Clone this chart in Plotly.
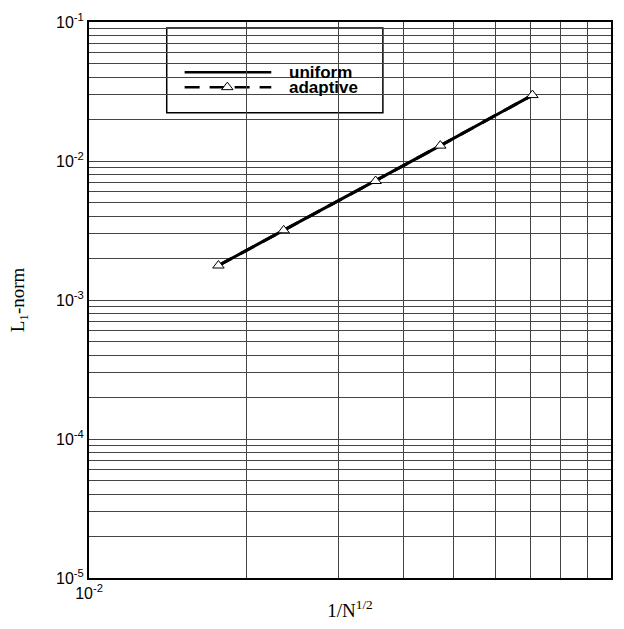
import plotly.graph_objects as go

# data
inv_sqrt_n = [0.0177, 0.0236, 0.0354, 0.0471, 0.0707]
uniform_l1 = [0.00177, 0.00317, 0.00718, 0.0129, 0.0298]
adaptive_l1 = [0.00177, 0.00317, 0.00718, 0.0129, 0.0298]

x_ticks = [0.01 * k for k in range(1, 11)]
x_labels = ["10<sup>-2</sup>"] + [""] * 8 + ["10<sup>-1</sup>"]
y_ticks = []
y_labels = []
for e in range(-5, -1):
    for k in range(1, 10):
        y_ticks.append(k * 10.0 ** e)
        y_labels.append(f"10<sup>{e}</sup>" if k == 1 else "")
y_ticks.append(0.1)
y_labels.append("10<sup>-1</sup>")

fig = go.Figure()
fig.add_trace(go.Scatter(x=inv_sqrt_n, y=uniform_l1, mode="lines",
                         line=dict(color="black", width=3), showlegend=False))
fig.add_trace(go.Scatter(x=inv_sqrt_n, y=adaptive_l1, mode="lines+markers",
                         line=dict(color="black", width=3, dash="15px,10px"),
                         marker=dict(symbol="triangle-up", size=10, color="white",
                                     line=dict(color="black", width=1)),
                         showlegend=False))
# legend marker on overlay axes
fig.add_trace(go.Scatter(x=[0.265], y=[0.8828], xaxis="x2", yaxis="y2",
                         mode="markers", hoverinfo="skip",
                         marker=dict(symbol="triangle-up", size=10, color="white",
                                     line=dict(color="black", width=1)),
                         showlegend=False))

font = "Liberation Sans, Arial, sans-serif"
serif = "Liberation Serif, Times New Roman, serif"

fig.update_layout(
    width=624, height=629,
    margin=dict(l=89, r=11, t=15, b=51),
    paper_bgcolor="white", plot_bgcolor="white",
    xaxis=dict(type="log", range=[-2, -1], tickvals=x_ticks, ticktext=x_labels,
               showgrid=True, gridcolor="#444", gridwidth=1,
               showline=True, linecolor="black", linewidth=2, mirror=True,
               ticks="", zeroline=False,
               tickfont=dict(family=font, size=16, color="black"),
               title=dict(text="1/N<sup>1/2</sup>", font=dict(family=serif, size=19, color="black"),
                          standoff=2)),
    yaxis=dict(type="log", range=[-5, -1], tickvals=y_ticks, ticktext=y_labels,
               showgrid=True, gridcolor="#444", gridwidth=1,
               showline=True, linecolor="black", linewidth=2, mirror=True,
               ticks="", zeroline=False,
               tickfont=dict(family=font, size=16, color="black"),
               title=dict(text="L<sub>1</sub>-norm", font=dict(family=serif, size=19, color="black"),
                          standoff=26)),
    xaxis2=dict(overlaying="x", range=[0, 1], visible=False, domain=[0, 1]),
    yaxis2=dict(overlaying="y", range=[0, 1], visible=False, domain=[0, 1]),
    shapes=[
        dict(type="rect", xref="paper", yref="paper", x0=0.1489, x1=0.563,
             y0=0.8366, y1=0.9893, fillcolor="white",
             line=dict(color="black", width=1.5), layer="between"),
        dict(type="line", xref="paper", yref="paper", x0=0.1832, x1=0.3492,
             y0=0.9094, y1=0.9094, line=dict(color="black", width=2.5), layer="between"),
        dict(type="line", xref="paper", yref="paper", x0=0.1832, x1=0.3492,
             y0=0.8828, y1=0.8828, line=dict(color="black", width=2.5, dash="15px,10px"),
             layer="between"),
    ],
    annotations=[
        dict(xref="paper", yref="paper", x=0.380, y=0.9094, xanchor="left", yanchor="middle",
             text="<b>uniform</b>", showarrow=False,
             font=dict(family=font, size=17, color="black")),
        dict(xref="paper", yref="paper", x=0.380, y=0.8828, xanchor="left", yanchor="middle",
             text="<b>adaptive</b>", showarrow=False,
             font=dict(family=font, size=17, color="black")),
    ],
)

fig.write_html("out.html")
